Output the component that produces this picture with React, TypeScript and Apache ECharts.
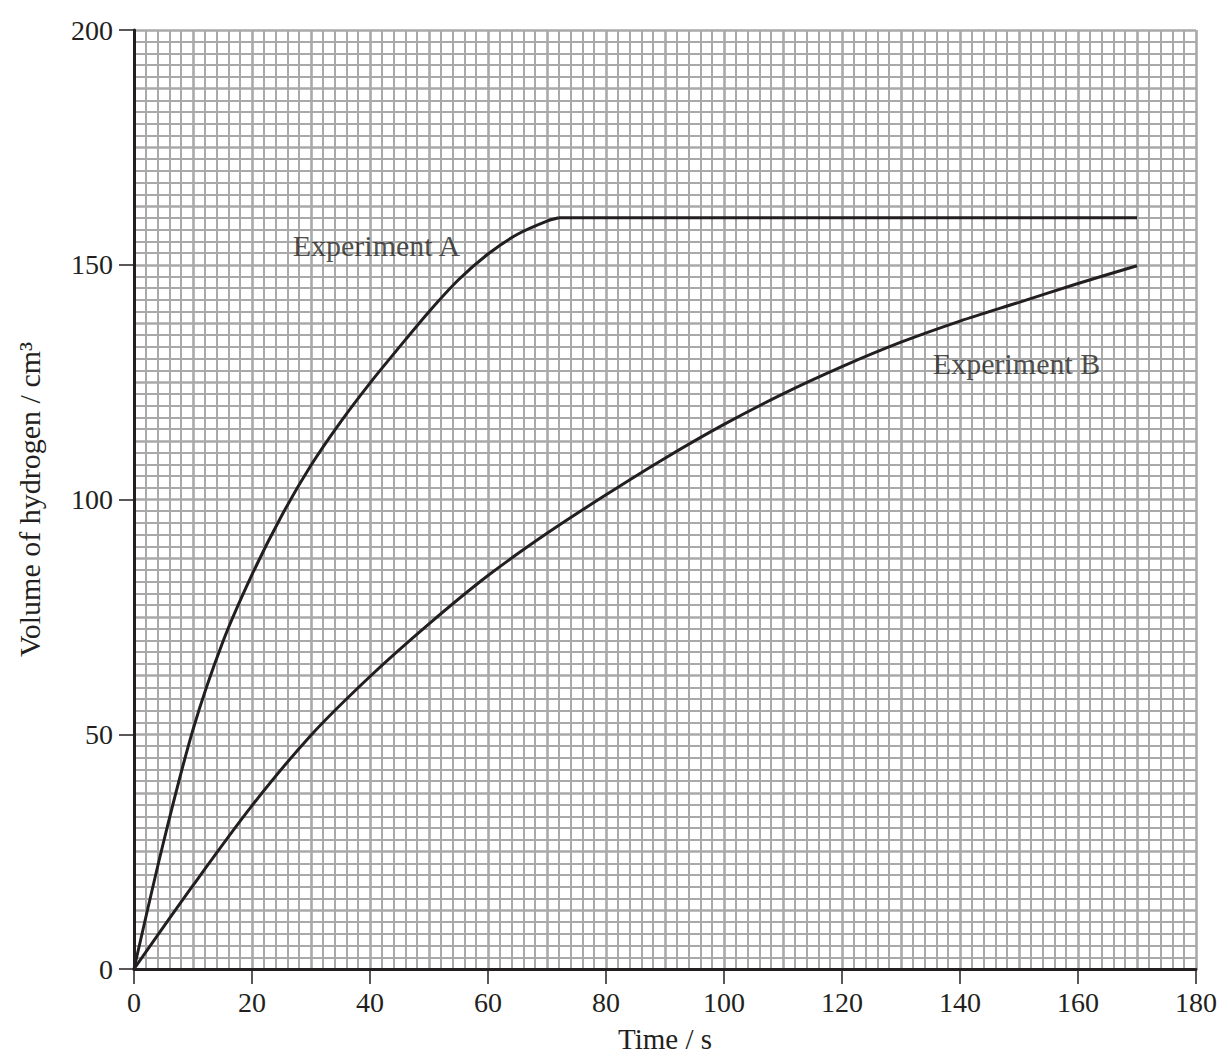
import React, { useEffect, useRef } from "react";
import * as echarts from "echarts";

const timeTicks = [0, 20, 40, 60, 80, 100, 120, 140, 160, 180];
const volumeTicks = [0, 50, 100, 150, 200];

const expATime = [0, 5, 10, 15, 20, 25, 30, 35, 40, 45, 50, 55, 60, 65, 70, 72];
const expAVol = [0, 27, 51, 69.5, 84, 96.5, 107.3, 116.5, 124.8, 132.5, 140, 146.8, 152.3, 156.5, 159.3, 160];
const expAFlatTime = [72, 170];
const expAFlatVol = [160, 160];

const expBTime = [0, 10, 20, 30, 40, 50, 60, 70, 80, 90, 100, 110, 120, 130, 140, 150, 160, 170];
const expBVol = [0, 17.8, 34.8, 49.8, 62.3, 73.5, 83.8, 92.8, 101, 108.8, 116, 122.5, 128.3, 133.5, 138, 142, 146, 149.8];

const labelNames = ["Experiment A", "Experiment B"];
const labelPos = [
  [26.9, 154.2],
  [135.4, 128.9],
];

const INK = "#231f20";
const GRIDC = "#a9a9a9";
const FONT = "Liberation Serif";

export default function App() {
  const ref = useRef<HTMLDivElement>(null);
  useEffect(() => {
    document.body.style.margin = "0";
    if (!ref.current) return;
    const chart = echarts.init(ref.current, undefined, { renderer: "svg" });
    const pair = (xs: number[], ys: number[]) => xs.map((x, i) => [x, ys[i]]);
    chart.setOption({
      animation: false,
      backgroundColor: "#ffffff",
      grid: { left: 134, right: 32, top: 30, bottom: 85, containLabel: false },
      xAxis: [
        {
          type: "value",
          min: 0,
          max: 180,
          interval: 20,
          name: "Time / s",
          nameLocation: "middle",
          nameGap: 55,
          nameTextStyle: { fontFamily: FONT, fontSize: 29, color: INK },
          axisLine: { show: true, onZero: false, lineStyle: { color: INK, width: 3 } },
          axisTick: { show: true, length: 15, lineStyle: { color: INK, width: 1.5 } },
          axisLabel: {
            margin: 19,
            fontFamily: FONT,
            fontSize: 28,
            color: INK,
            formatter: (v: number) => (timeTicks.includes(v) ? String(v) : ""),
          },
          splitLine: { show: false },
          z: 10,
        },
        {
          type: "value",
          min: 0,
          max: 180,
          interval: 10,
          position: "bottom",
          axisLine: { show: false },
          axisTick: { show: false },
          axisLabel: { show: false },
          splitLine: { show: true, lineStyle: { color: GRIDC, width: 2.6 } },
          minorTick: { show: false, splitNumber: 5 },
          minorSplitLine: { show: true, lineStyle: { color: GRIDC, width: 2 } },
          z: 0,
        },
      ],
      yAxis: [
        {
          type: "value",
          min: 0,
          max: 200,
          interval: 50,
          name: "Volume of hydrogen / cm³",
          nameLocation: "middle",
          nameGap: 90,
          nameRotate: 90,
          nameTextStyle: { fontFamily: FONT, fontSize: 30, color: INK },
          axisLine: { show: true, onZero: false, lineStyle: { color: INK, width: 3 } },
          axisTick: { show: true, length: 15, lineStyle: { color: INK, width: 1.5 } },
          axisLabel: {
            margin: 21,
            fontFamily: FONT,
            fontSize: 28,
            color: INK,
            formatter: (v: number) => (volumeTicks.includes(v) ? String(v) : ""),
          },
          splitLine: { show: false },
          z: 10,
        },
        {
          type: "value",
          min: 0,
          max: 200,
          interval: 12.5,
          position: "left",
          axisLine: { show: false },
          axisTick: { show: false },
          axisLabel: { show: false },
          splitLine: { show: true, lineStyle: { color: GRIDC, width: 2.6 } },
          minorTick: { show: false, splitNumber: 5 },
          minorSplitLine: { show: true, lineStyle: { color: GRIDC, width: 2 } },
          z: 0,
        },
      ],
      series: [
        {
          type: "line",
          name: "Experiment A",
          data: pair(expATime, expAVol),
          smooth: 0.3,
          showSymbol: false,
          lineStyle: { color: INK, width: 3 },
          z: 5,
        },
        {
          type: "line",
          name: "Experiment A plateau",
          data: pair(expAFlatTime, expAFlatVol),
          showSymbol: false,
          lineStyle: { color: INK, width: 3 },
          z: 5,
        },
        {
          type: "line",
          name: "Experiment B",
          data: pair(expBTime, expBVol),
          smooth: 0.3,
          showSymbol: false,
          lineStyle: { color: INK, width: 3 },
          z: 5,
        },
        {
          type: "scatter",
          name: "labels",
          symbolSize: 0,
          silent: true,
          data: labelNames.map((n, i) => ({ name: n, value: labelPos[i] })),
          label: {
            show: true,
            position: "right",
            distance: 0,
            formatter: (p: any) => p.name,
            fontFamily: FONT,
            fontSize: 30,
            color: INK,
          },
          z: 6,
        },
      ],
    });
    return () => chart.dispose();
  }, []);
  return <div ref={ref} style={{ width: 1228, height: 1058 }} />;
}
